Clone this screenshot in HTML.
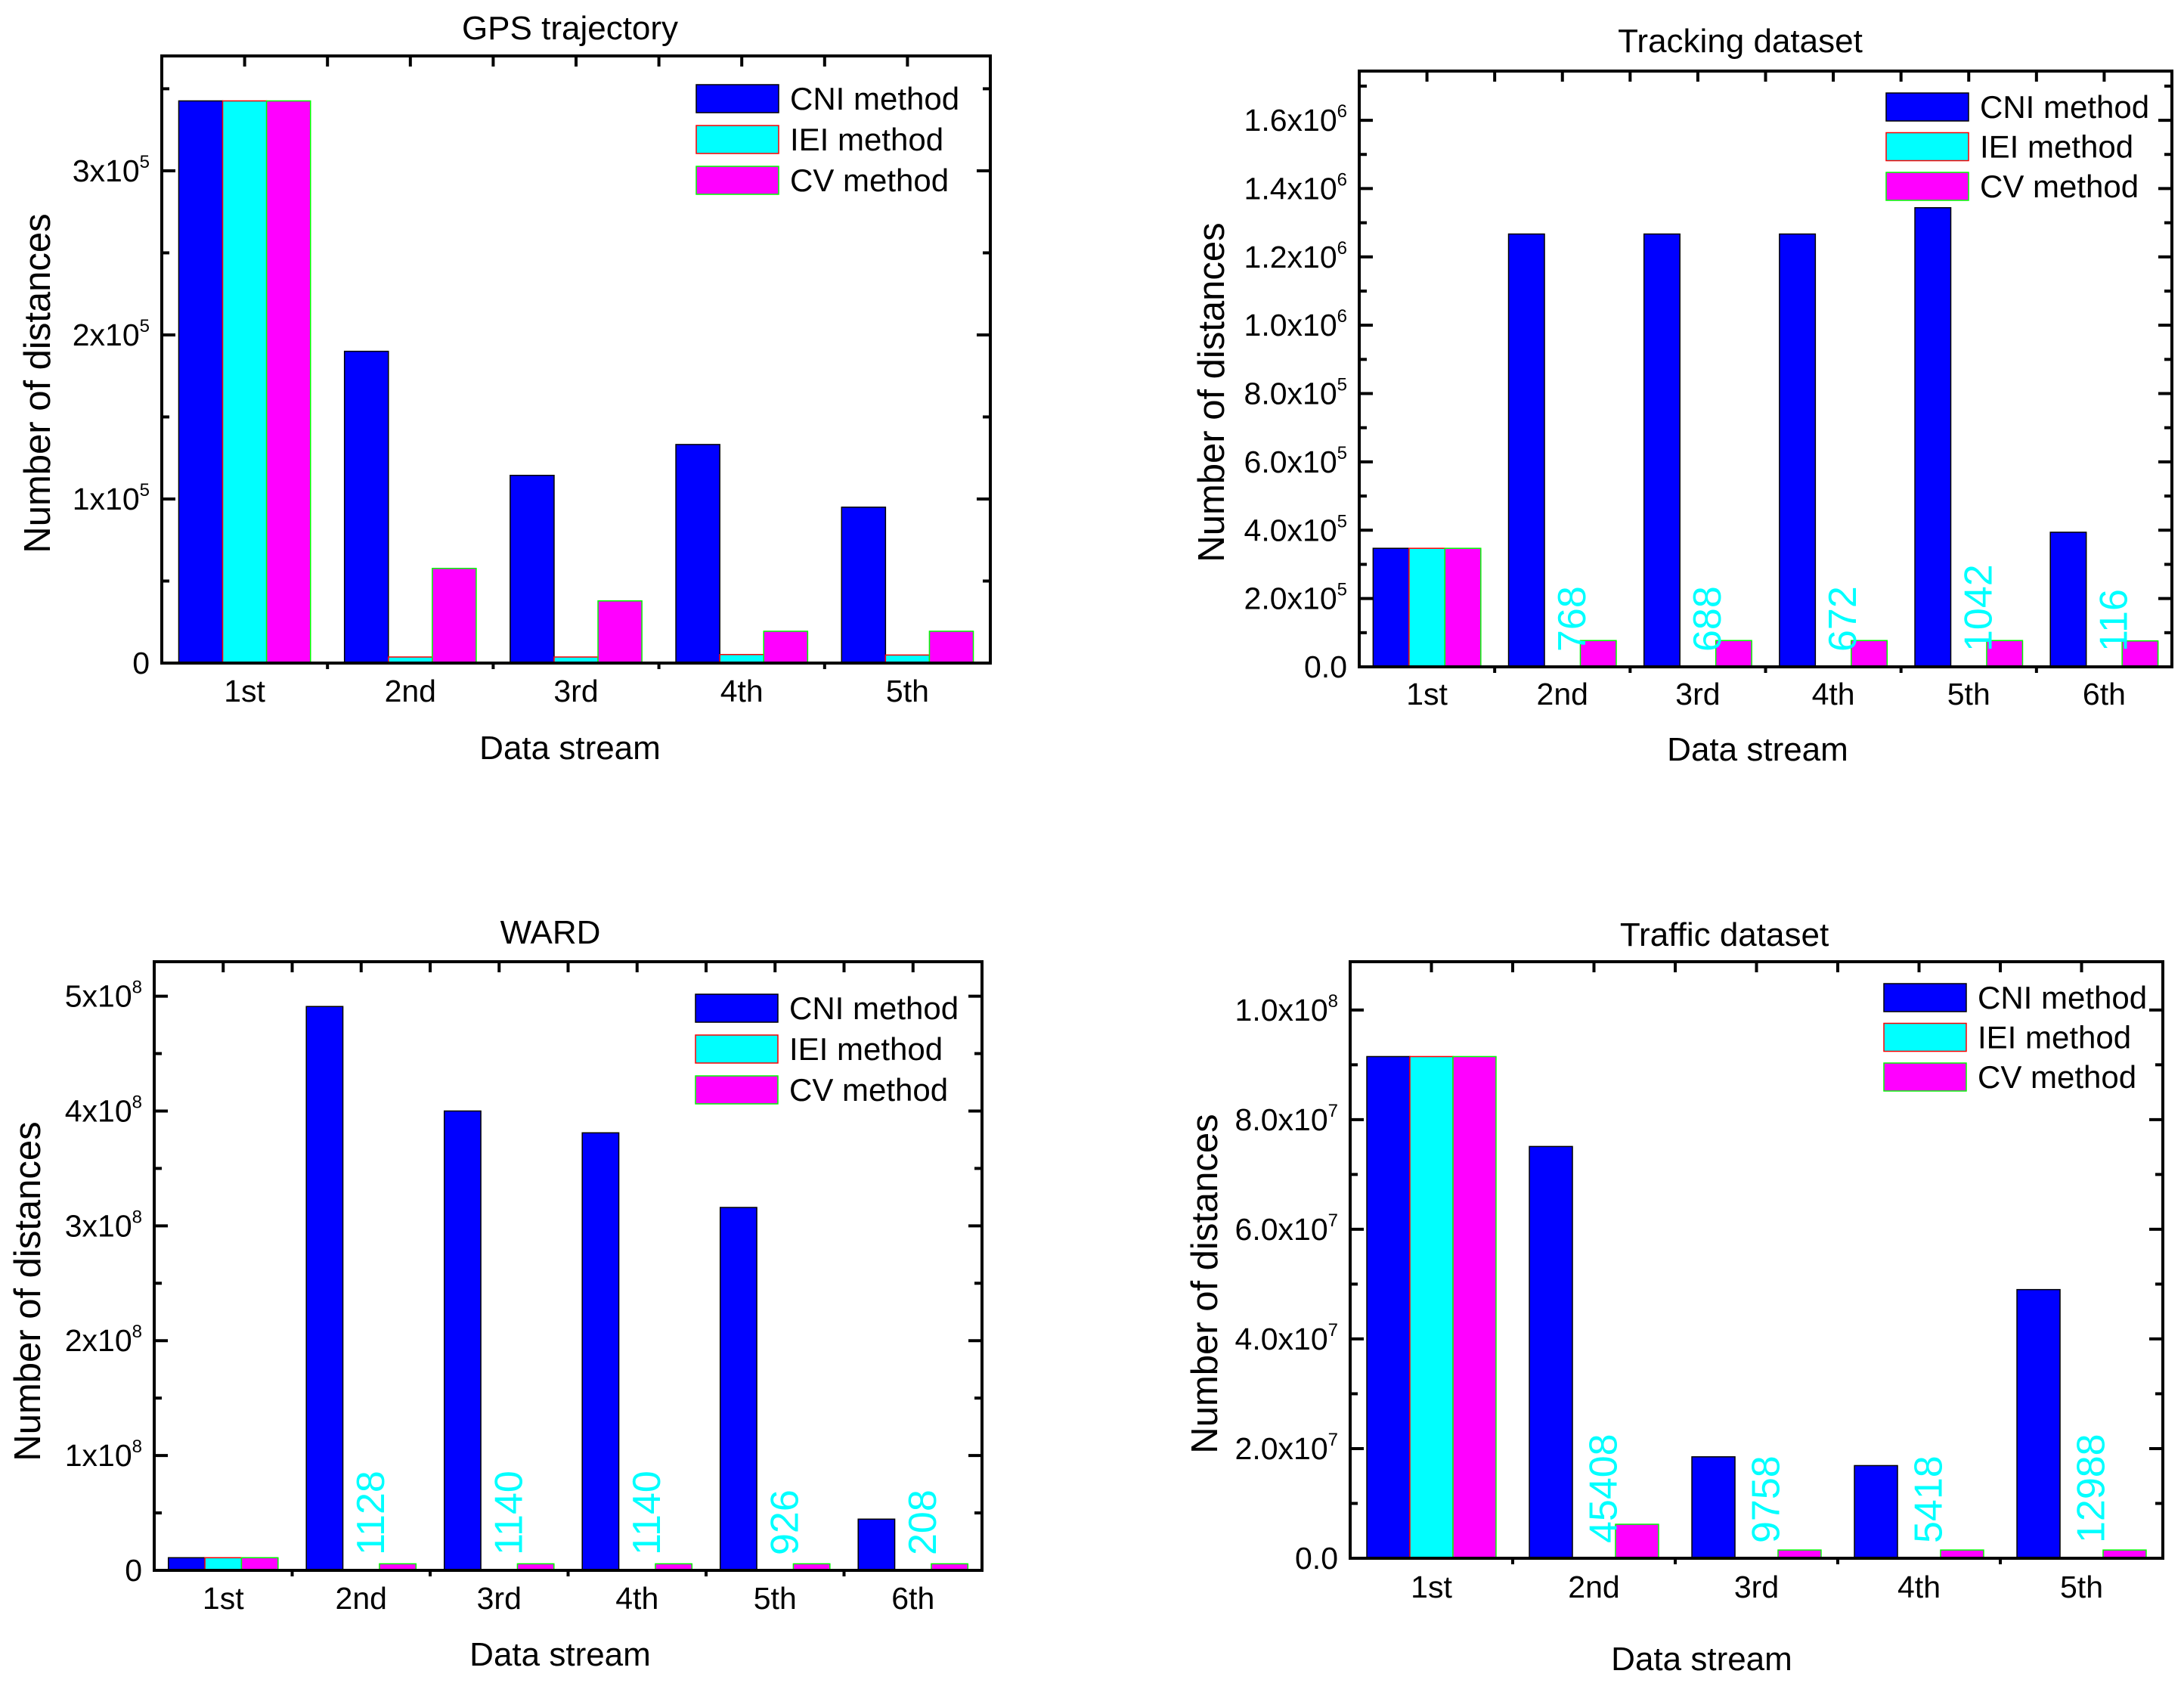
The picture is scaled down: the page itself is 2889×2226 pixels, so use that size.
<!DOCTYPE html>
<html><head><meta charset="utf-8"><style>
html,body{margin:0;padding:0;background:#fff;}
svg{display:block;font-family:"Liberation Sans",Arial,sans-serif;}
</style></head><body>
<svg id="fig" width="2889" height="2226" viewBox="0 0 2889 2226" xmlns="http://www.w3.org/2000/svg"></svg>
<script>
// ---- GPS trajectory ----
const gpsCategories = ["1st","2nd","3rd","4th","5th"];
const gpsCNI = [342600,190000,114400,133200,95000];
const gpsIEI = [342600,3700,3700,5200,4900];
const gpsCV  = [342600,57700,37900,19400,19400];
const gpsIEILabels = [];
const gpsTickValues = [0,100000,200000,300000];
const gpsTickLabels = [["0",""],["1x10","5"],["2x10","5"],["3x10","5"]];

// ---- Tracking dataset ----
const trkCategories = ["1st","2nd","3rd","4th","5th","6th"];
const trkCNI = [347000,1267000,1267000,1267000,1344000,394000];
const trkIEI = [347000,768,688,672,1042,116];
const trkCV  = [347000,77000,77000,77000,77000,76000];
const trkIEILabels = ["","768","688","672","1042","116"];
const trkTickValues = [0,200000,400000,600000,800000,1000000,1200000,1400000,1600000];
const trkTickLabels = [["0.0",""],["2.0x10","5"],["4.0x10","5"],["6.0x10","5"],["8.0x10","5"],["1.0x10","6"],["1.2x10","6"],["1.4x10","6"],["1.6x10","6"]];

// ---- WARD ----
const wardCategories = ["1st","2nd","3rd","4th","5th","6th"];
const wardCNI = [11000000,491000000,400000000,381000000,316000000,44600000];
const wardIEI = [11000000,1128,1140,1140,926,208];
const wardCV  = [11000000,5700000,5700000,5700000,5700000,5700000];
const wardIEILabels = ["","1128","1140","1140","926","208"];
const wardTickValues = [0,100000000,200000000,300000000,400000000,500000000];
const wardTickLabels = [["0",""],["1x10","8"],["2x10","8"],["3x10","8"],["4x10","8"],["5x10","8"]];

// ---- Traffic dataset ----
const trfCategories = ["1st","2nd","3rd","4th","5th"];
const trfCNI = [91500000,75100000,18500000,16900000,49000000];
const trfIEI = [91500000,45408,9758,5418,12988];
const trfCV  = [91500000,6200000,1500000,1500000,1500000];
const trfIEILabels = ["","45408","9758","5418","12988"];
const trfTickValues = [0,20000000,40000000,60000000,80000000,100000000];
const trfTickLabels = [["0.0",""],["2.0x10","7"],["4.0x10","7"],["6.0x10","7"],["8.0x10","7"],["1.0x10","8"]];

const NS = "http://www.w3.org/2000/svg";
const fig = document.getElementById("fig");
function mk(tag, attrs, parent){
  const e = document.createElementNS(NS, tag);
  for (const k in attrs) e.setAttribute(k, attrs[k]);
  (parent||fig).appendChild(e);
  return e;
}

function drawChart(cfg){
  const g = mk("g", {});
  
  
  const L=cfg.left,R=cfg.right,T=cfg.top,B=cfg.bottom;
  const n = cfg.cats.length;
  const sp = (R-L)/n;
  const bw = sp*0.265;
  const yS = v => B - v/cfg.max*(B-T);
  const xC = i => L + sp*(i+0.5);

  const series = [[cfg.cni,"#0000ff","#000000","cni"],[cfg.iei,"#00ffff","#ff0000","iei"],[cfg.cv,"#ff00ff","#00ff00","cv"]];
  series.forEach((s,si)=>{
    s[0].forEach((v,i)=>{
      const x = xC(i) + (si-1.5)*bw;
      const y = yS(v);
      const r = mk("rect",{x:x,y:y,width:bw,height:Math.max(B-y,0),fill:s[1],stroke:s[2],"stroke-width":1.5},g);
      
      
    });
  });
  cfg.ieiLabels.forEach((lab,i)=>{
    if(!lab) return;
    const x = xC(i) + 30, y = B - 20;
    const t = mk("text",{x:0,y:0,transform:`translate(${x},${y}) rotate(-90)`,"font-size":52,fill:"#00ffff"},g);
    t.textContent = lab;
    
    
  });
  const fr = mk("rect",{x:L,y:T,width:R-L,height:B-T,fill:"none",stroke:"#000","stroke-width":4},g);
  
  
  const step = cfg.ticks[1]-cfg.ticks[0];
  for(let v=0; v<=cfg.max; v+=step/2){
    const y=yS(v); const major = Math.abs((v/step)-Math.round(v/step))<1e-6;
    const len = major?18:10;
    mk("line",{x1:L,x2:L+len,y1:y,y2:y,stroke:"#000","stroke-width":4},g);
    mk("line",{x1:R,x2:R-len,y1:y,y2:y,stroke:"#000","stroke-width":4},g);
  }
  cfg.ticks.forEach((v,i)=>{
    const y=yS(v);
    const t = mk("text",{x:L-16,y:y+14,"font-size":41,"text-anchor":"end",fill:"#000"},g);
    
    
    const lab = cfg.tickLabels[i];
    if(lab[1]){
      const a = mk("tspan",{},t); a.textContent = lab[0];
      const b = mk("tspan",{dy:-18,"font-size":24},t); b.textContent = lab[1];
    } else t.textContent = lab[0];
  });
  for(let k=0;k<=2*n;k++){
    const x = L + sp*k/2;
    mk("line",{x1:x,x2:x,y1:T,y2:T+14,stroke:"#000","stroke-width":4},g);
    if(k%2===0 && k>0 && k<2*n) mk("line",{x1:x,x2:x,y1:B,y2:B+8,stroke:"#000","stroke-width":4},g);
  }
  cfg.cats.forEach((c,i)=>{
    const t = mk("text",{x:xC(i),y:cfg.xlabY+14,"font-size":41,"text-anchor":"middle",fill:"#000"},g);
    t.textContent=c;
    
    
  });
  let t = mk("text",{x:cfg.titleX,y:cfg.titleY+15,"font-size":44,"text-anchor":"middle",fill:"#000"},g);
  t.textContent = cfg.title;
  
  
  t = mk("text",{x:cfg.xtX,y:cfg.xtY+16,"font-size":44,"text-anchor":"middle",fill:"#000"},g);
  t.textContent = "Data stream";
  
  
  t = mk("text",{x:0,y:0,transform:`translate(${cfg.ytX+17},${cfg.ytY}) rotate(-90)`,"font-size":49,"text-anchor":"middle",fill:"#000"},g);
  t.textContent = "Number of distances";
  
  
  const names=["CNI method","IEI method","CV method"];
  const lg = mk("g",{},g);
  
  
  series.forEach((s,si)=>{
    const ry = cfg.legY + si*cfg.legStep;
    mk("rect",{x:cfg.legX,y:ry,width:109,height:37,fill:s[1],stroke:s[2],"stroke-width":1.5},lg);
    const tt = mk("text",{x:cfg.legX+124,y:ry+33,"font-size":42,fill:"#000"},lg);
    tt.textContent = names[si];
    
    
  });
}

drawChart({name:"gps-chart",title:"GPS trajectory",cats:gpsCategories,cni:gpsCNI,iei:gpsIEI,cv:gpsCV,ieiLabels:gpsIEILabels,ticks:gpsTickValues,tickLabels:gpsTickLabels,max:370000,
  left:214,right:1310,top:74,bottom:877,titleX:754,titleY:37,xlabY:914,xtX:754,xtY:988,ytX:49,ytY:507,legX:921,legY:112,legStep:54});
drawChart({name:"tracking-chart",title:"Tracking dataset",cats:trkCategories,cni:trkCNI,iei:trkIEI,cv:trkCV,ieiLabels:trkIEILabels,ticks:trkTickValues,tickLabels:trkTickLabels,max:1744000,
  left:1798,right:2873,top:94,bottom:882,titleX:2302,titleY:54,xlabY:918,xtX:2325,xtY:990,ytX:1602,ytY:519,legX:2495,legY:123,legStep:52.5});
drawChart({name:"ward-chart",title:"WARD",cats:wardCategories,cni:wardCNI,iei:wardIEI,cv:wardCV,ieiLabels:wardIEILabels,ticks:wardTickValues,tickLabels:wardTickLabels,max:530000000,
  left:204,right:1299,top:1272,bottom:2077,titleX:728,titleY:1233,xlabY:2114,xtX:741,xtY:2187,ytX:36,ytY:1708,legX:920,legY:1315,legStep:54});
drawChart({name:"traffic-chart",title:"Traffic dataset",cats:trfCategories,cni:trfCNI,iei:trfIEI,cv:trfCV,ieiLabels:trfIEILabels,ticks:trfTickValues,tickLabels:trfTickLabels,max:108800000,
  left:1786,right:2861,top:1272,bottom:2061,titleX:2281,titleY:1236,xlabY:2099,xtX:2251,xtY:2193,ytX:1593,ytY:1698,legX:2492,legY:1301,legStep:52.5});
</script>
</body></html>
